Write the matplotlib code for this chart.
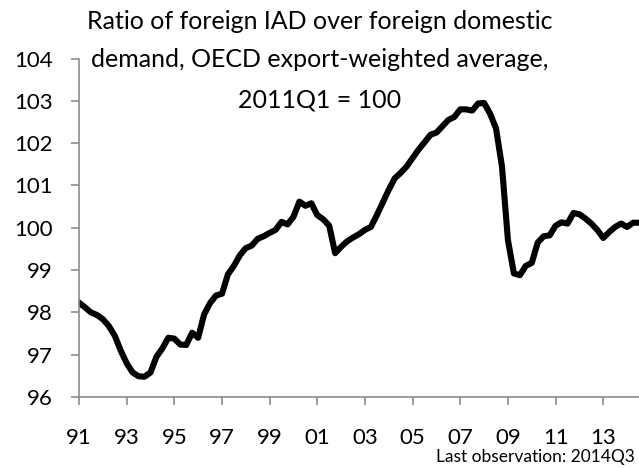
import numpy as np
import matplotlib
matplotlib.use('Agg')
import matplotlib.pyplot as plt

# quarterly values, 1991Q1 .. 2014Q3
start_year = 1991
ratio = [
    98.23, 98.12, 98.00, 97.94,   # 1991
    97.84, 97.68, 97.45, 97.10,   # 1992
    96.80, 96.58, 96.49, 96.48,   # 1993
    96.58, 96.95, 97.15, 97.40,   # 1994
    97.38, 97.24, 97.23, 97.52,   # 1995
    97.40, 97.95, 98.22, 98.40,   # 1996
    98.44, 98.90, 99.10, 99.35,   # 1997
    99.52, 99.58, 99.74, 99.80,   # 1998
    99.88, 99.95, 100.14, 100.08, # 1999
    100.26, 100.62, 100.52, 100.58,  # 2000
    100.30, 100.20, 100.05, 99.40,   # 2001
    99.55, 99.68, 99.77, 99.85,   # 2002
    99.95, 100.02, 100.30, 100.60,   # 2003
    100.90, 101.17, 101.30, 101.45,  # 2004
    101.65, 101.85, 102.02, 102.20,  # 2005
    102.25, 102.40, 102.55, 102.62,  # 2006
    102.80, 102.80, 102.77, 102.94,  # 2007
    102.95, 102.70, 102.35, 101.45,  # 2008
    99.71, 98.92, 98.88, 99.10,   # 2009
    99.17, 99.65, 99.80, 99.82,   # 2010
    100.05, 100.13, 100.10, 100.35,  # 2011
    100.32, 100.22, 100.10, 99.95,   # 2012
    99.76, 99.90, 100.02, 100.10,    # 2013
    100.02, 100.12, 100.12,          # 2014
]
tick_years = list(range(1991, 2014, 2))
tick_labels = ['%02d' % (y % 100) for y in tick_years]
y_ticks = list(range(96, 105))
title_lines = ['Ratio of foreign IAD over foreign domestic',
               'demand, OECD export-weighted average,',
               '2011Q1 = 100']

plt.rcParams['font.family'] = ['Lato', 'DejaVu Sans']

fig = plt.figure(figsize=(6.39, 4.68), dpi=100)
ax = fig.add_axes([0.1236, 0.1517, 0.8764, 0.7231])

x = start_year + np.arange(len(ratio)) / 4.0
ax.plot(x, ratio, color='black', lw=4.4, solid_joinstyle='round')

ax.set_xlim(1991, 2014.5)
ax.set_ylim(96, 104)
ax.set_xticks(tick_years)
ax.set_xticklabels(tick_labels)
ax.set_yticks(y_ticks)

for s in ['top', 'right']:
    ax.spines[s].set_visible(False)
for s in ['left', 'bottom']:
    ax.spines[s].set_color('#8c8c8c')
    ax.spines[s].set_linewidth(1.2)
ax.tick_params(axis='x', direction='out', length=6, width=1.2, color='#8c8c8c',
               labelsize=16, pad=16)
ax.tick_params(axis='y', direction='out', length=6, width=1.2, color='#8c8c8c',
               labelsize=16, pad=13)

# title lines, one text each (centres ~22, 60, 100 px from top)
for line, yy in zip(title_lines, [0.953, 0.872, 0.786]):
    fig.text(0.5, yy, line, ha='center', va='center', fontsize=18)
fig.text(0.993, 0.006, 'Last observation: 2014Q3', ha='right', va='bottom',
         fontsize=12.5)

fig.savefig('out.png', dpi=100)
